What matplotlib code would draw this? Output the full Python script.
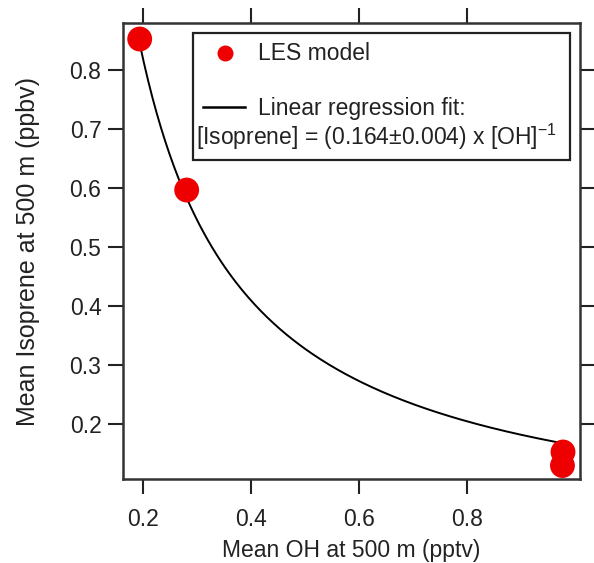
import numpy as np
import matplotlib
matplotlib.use("Agg")
import matplotlib.pyplot as plt
from matplotlib.patches import Rectangle
from matplotlib.lines import Line2D

plt.rcParams['font.family'] = ['Liberation Sans', 'DejaVu Sans']

# LES model points (mean OH vs mean isoprene at 500 m)
oh_pptv = [0.194, 0.281, 0.978, 0.977]
isoprene_ppbv = [0.853, 0.597, 0.153, 0.130]

# regression fit: [Isoprene] = a * [OH]^-1
fit_coef = 0.164
fit_oh = np.linspace(0.194, 0.978, 200)
fit_iso = fit_coef / fit_oh

xticks = [0.2, 0.4, 0.6, 0.8]
yticks = [0.2, 0.3, 0.4, 0.5, 0.6, 0.7, 0.8]

fig = plt.figure(figsize=(5.94, 5.63), dpi=100)
ax = fig.add_axes([0.207, 0.149, 0.769, 0.810])

ax.plot(fit_oh, fit_iso, color='black', lw=1.4, zorder=2)
ax.scatter(oh_pptv, isoprene_ppbv, s=320, color='#ee0000', edgecolors='none', zorder=3)

ax.set_xlim(0.163, 1.009)
ax.set_ylim(0.107, 0.88)
ax.set_xticks(xticks)
ax.set_yticks(yticks)
ax.set_xticklabels([f"{v:.1f}" for v in xticks])
ax.set_yticklabels([f"{v:.1f}" for v in yticks])
ax.tick_params(direction='out', length=10.5, width=1.5, color='#222222',
               labelsize=16.5, labelcolor='#222222', top=True, right=True,
               labeltop=False, labelright=False)
ax.tick_params(axis='x', pad=10)
ax.tick_params(axis='y', pad=5)
for sp in ax.spines.values():
    sp.set_linewidth(1.8)
    sp.set_color('#333333')

ax.set_xlabel('Mean OH at 500 m (pptv)', fontsize=16.5, color='#222222', labelpad=6)
ax.set_ylabel('Mean Isoprene at 500 m (ppbv)', fontsize=18, color='#222222', labelpad=21)

# legend box drawn by hand to keep the Igor-style layout
tr = ax.transAxes
ax.add_patch(Rectangle((0.153, 0.699), 0.825, 0.279, transform=tr,
                       facecolor='white', edgecolor='#222222', lw=1.6, zorder=4))
ax.add_line(Line2D([0.223], [0.934], transform=tr, marker='o', markersize=11.5,
                   color='#ee0000', markeredgecolor='none', zorder=5))
ax.text(0.295, 0.919, 'LES model', transform=tr, fontsize=16.5, va='baseline',
        color='#222222', zorder=5)
ax.add_line(Line2D([0.175, 0.267], [0.816, 0.816], transform=tr, color='black',
                   lw=1.8, zorder=5))
ax.text(0.295, 0.798, 'Linear regression fit:', transform=tr, fontsize=16.5,
        va='baseline', color='#222222', zorder=5)
ax.text(0.160, 0.732, r'[Isoprene] = (0.164±0.004) x [OH]$^{\mathregular{-1}}$',
        transform=tr, fontsize=16.5, va='baseline', color='#222222', zorder=5)

fig.savefig('out.png', dpi=100)
